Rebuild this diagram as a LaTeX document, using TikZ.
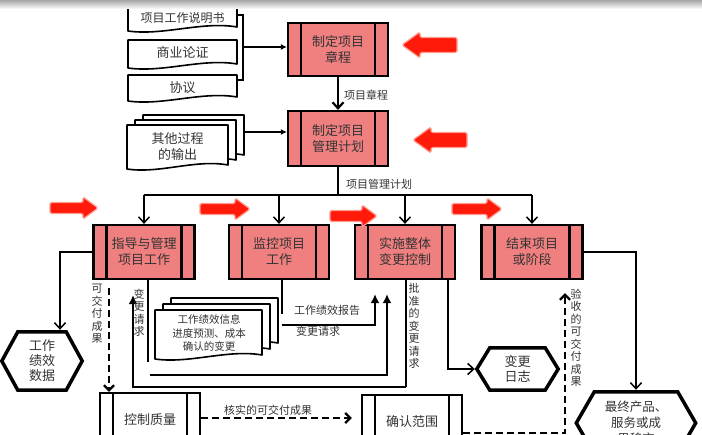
\documentclass[tikz,border=0pt]{standalone}
\usepackage{fontspec}
\setmainfont{Noto Sans CJK SC}
\usetikzlibrary{arrows.meta,calc}
\definecolor{boxfill}{HTML}{F08080}
\definecolor{redarr}{HTML}{FF1A0A}
\definecolor{redglow}{HTML}{FF9A90}
\definecolor{txt}{HTML}{333333}
\pgfdeclarelayer{bg}
\pgfsetlayers{bg,main}
\newcommand\docshape[4]{\filldraw[docline] (#1,#2) -- (#3,#2) -- (#3,#4-3) .. controls (#1+0.68*#3-0.68*#1,#4-9) and (#1+0.32*#3-0.32*#1,#4+6) .. (#1,#4+1) -- cycle;}
\newcommand\hexdraw[2]{\filldraw[hexline] (#1.west) -- ([xshift=#2]#1.north west) -- ([xshift=-#2]#1.north east) -- (#1.east) -- ([xshift=-#2]#1.south east) -- ([xshift=#2]#1.south west) -- cycle;}
\newcommand\rarrow[3]{\filldraw[redstyle] (#1,#3-5.5) -- (#2-15,#3-5.5) -- (#2-15,#3-11) -- (#2,#3) -- (#2-15,#3+11) -- (#2-15,#3+5.5) -- (#1,#3+5.5) -- cycle;}
\newcommand\larrow[3]{\filldraw[redstyle] (#1,#3) -- (#1+18,#3-13) -- (#1+18,#3-7.5) -- (#2,#3-7.5) -- (#2,#3+7.5) -- (#1+18,#3+7.5) -- (#1+18,#3+13) -- cycle;}
\begin{document}
\begin{tikzpicture}[x=1pt,y=-1pt,
  proc/.style={draw=black, line width=2.2pt, fill=boxfill, minimum width=100pt, minimum height=54pt, inner sep=0pt, align=center, font=\fontsize{13}{16}\selectfont, text=txt,
    path picture={\draw[line width=2.2pt] ([xshift=13pt]path picture bounding box.north west) -- ([xshift=13pt]path picture bounding box.south west) ([xshift=-13pt]path picture bounding box.north east) -- ([xshift=-13pt]path picture bounding box.south east);}},
  docline/.style={draw=black, fill=white, line width=1.6pt, line join=round},
  doctext/.style={inner sep=0pt, align=center, text=txt},
  hexline/.style={draw=black, fill=white, line width=3.5pt, line join=miter},
  hextext/.style={inner sep=0pt, align=center, text=txt, font=\fontsize{13}{15}\selectfont},
  redstyle/.style={fill=redarr, draw=redglow, line width=1.2pt, rounded corners=1.5pt},
  lab/.style={inner sep=0pt, text=txt, font=\fontsize{11}{13}\selectfont},
  vlab/.style={inner sep=0pt, align=center, text=txt, font=\fontsize{11}{12.5}\selectfont},
  ln/.style={line width=1.5pt},
  thk/.style={line width=2.4pt},
  dsh/.style={line width=2.4pt, dash pattern=on 7pt off 4pt},
  vtip/.style={-{Straight Barb[length=6pt,width=11pt]}},
  stip/.style={-{Latex[length=6pt,width=6pt]}},
  ftip/.style={-{Latex[length=9pt,width=9pt]}},
  dtip/.style={-{Straight Barb[length=5pt,width=10pt]}}
]
\useasboundingbox (0,0) rectangle (702,435);
\shade[top color=black!35, bottom color=white] (0,0) rectangle (702,9);

% ---------- documents ----------
\node[doctext, minimum width=109pt, minimum height=24pt, font=\fontsize{12}{14}\selectfont] (d1) at (182.5,18) {项目工作说明书};
\node[doctext, minimum width=109pt, minimum height=27pt, font=\fontsize{13}{15}\selectfont] (d2) at (182.5,53) {商业论证};
\node[doctext, minimum width=109pt, minimum height=25pt, font=\fontsize{13}{15}\selectfont] (d3) at (182.5,87.5) {协议};
\node[doctext, minimum width=101pt, minimum height=43pt, font=\fontsize{13}{16}\selectfont] (d4) at (177.5,146.5) {其他过程\\的输出};
\node[doctext, minimum width=107pt, minimum height=48pt, font=\fontsize{10.5}{13.5}\selectfont] (d5) at (209,333) {工作绩效信息\\进度预测、成本\\确认的变更};
\begin{pgfonlayer}{bg}
\docshape{128}{6}{237}{30}
\docshape{128}{40}{237}{67}
\docshape{128}{75}{237}{100}
\docshape{143}{115}{244}{158}
\docshape{135}{120}{236}{163}
\docshape{127}{125}{228}{168}
\docshape{171}{298}{278}{346}
\docshape{163}{304}{270}{352}
\docshape{155}{310}{262}{358}
\end{pgfonlayer}

% ---------- process boxes ----------
\node[proc, minimum height=53pt] (ch) at (338,49.5) {制定项目\\章程};
\node[proc, minimum height=55pt] (pl) at (338,138.5) {制定项目\\管理计划};
\node[proc, minimum width=101pt] (p1) at (144,252) {指导与管理\\项目工作};
\node[proc] (p2) at (279,252) {监控项目\\工作};
\node[proc] (p3) at (405,252) {实施整体\\变更控制};
\node[proc, minimum width=101pt] (p4) at (532,252) {结束项目\\或阶段};
\node[proc, fill=white] (cq) at (150,420) {控制质量};
\node[proc, fill=white] (cv) at (412,422) {确认范围};

% ---------- hexagons ----------
\node[hextext, minimum width=80pt, minimum height=58pt] (hx1) at (42,361) {工作\\绩效\\数据};
\node[hextext, minimum width=81pt, minimum height=42pt] (hx2) at (517.5,369) {变更\\日志};
\node[hextext, minimum width=119pt, minimum height=62pt, font=\fontsize{12.5}{16}\selectfont] (hx3) at (636,423) {最终产品、\\服务或成\\果移交};
\begin{pgfonlayer}{bg}
\hexdraw{hx1}{16pt}
\hexdraw{hx2}{13pt}
\hexdraw{hx3}{18pt}
\end{pgfonlayer}

% ---------- red arrows ----------
\larrow{402}{457}{45}
\larrow{413}{467}{140}
\rarrow{50}{98}{208}
\rarrow{200}{250}{209}
\rarrow{330}{377}{216}
\rarrow{452}{502}{209}

% ---------- connectors: top ----------
\draw[ln] ([yshift=3pt]d1.east) -- ++(6,0) |- ([yshift=7.5pt]d3.east);
\coordinate (br) at (243,47);
\draw[ln, stip] (br) -- (br -| ch.west);
\coordinate (d4o) at (244,132);
\draw[ln, stip] (d4o) -- (d4o -| pl.west);
\draw[line width=2.2pt, vtip] (ch.south) -- (pl.north);
\node[lab] (lbch) at (366,95) {项目章程};

\coordinate (bus) at (338,195);
\draw[ln] (pl.south) -- (bus);
\node[lab, anchor=west] (lbpl) at (346,184) {项目管理计划};
\draw[ln] (p1.north |- bus) -- (p4.north |- bus);
\foreach \n in {p1,p2,p3,p4}{\draw[ln, vtip] (\n.north |- bus) -- (\n.north);}

% ---------- connectors: lower ----------
\draw[ln, vtip, shorten >=2pt] (p1.west) -| ([xshift=18pt]hx1.north);

\coordinate (a1) at ([xshift=-35pt]p1.south);
\draw[dsh, dtip, shorten <=8pt] (a1) -- (a1 |- cq.north);
\node[vlab] (lbdel) at (97,314) {可\\交\\付\\成\\果};

\coordinate (p3b) at ([xshift=1pt]p3.south);
\coordinate (p1a) at ([xshift=-11pt]p1.south);
\draw[ln] (p3b) -- (p3b |- 0,387);
\draw[thk, ftip, shorten >=15pt] (p3b |- 0,387) -- (p1a |- 0,387) -- (p1a);
\node[vlab] (lbapp) at (414,326) {批\\准\\的\\变\\更\\请\\求};

\coordinate (p1b) at ([xshift=4pt]p1.south);
\coordinate (p3a) at ([xshift=-18pt]p3.south);
\draw[ln] (p1b) -- (p1b |- 0,362);
\draw[thk, ftip, shorten >=14pt] (150,375) -- (p3a |- 0,375) -- (p3a);
\node[vlab] (lbcr) at (139,313) {变\\更\\请\\求};

\coordinate (p2b) at ([xshift=3pt]p2.south);
\coordinate (p3c) at ([xshift=-30pt]p3.south);
\draw[ln] (p2b) -- (p2b |- 0,314);
\draw[thk, ftip, shorten >=14pt] (p2b |- 0,325) -- (p3c |- 0,325) -- (p3c);
\node[lab] (lbwpr) at (327,310) {工作绩效报告};
\node[lab] (lbcr2) at (318,331) {变更请求};

\coordinate (p3d) at ([xshift=43pt]p3.south);
\draw[ln, vtip, shorten >=2pt] (p3d) |- (hx2.west);

\draw[ln, vtip, shorten >=2pt] (p4.east) -| (hx3.north);

\coordinate (q1) at ([yshift=2pt]cq.east);
\draw[dsh, dtip, shorten >=9pt] (q1) -- (q1 -| cv.west);
\node[lab] (lbver) at (268,410) {核实的可交付成果};

\coordinate (v1) at ([yshift=-11pt]cv.east);
\coordinate (p4a) at ([xshift=33pt]p4.south);
\draw[dsh, dtip, shorten >=13pt] (v1) -| (p4a);
\node[vlab] (lbacc) at (576,338) {验\\收\\的\\可\\交\\付\\成\\果};
\end{tikzpicture}
\end{document}
